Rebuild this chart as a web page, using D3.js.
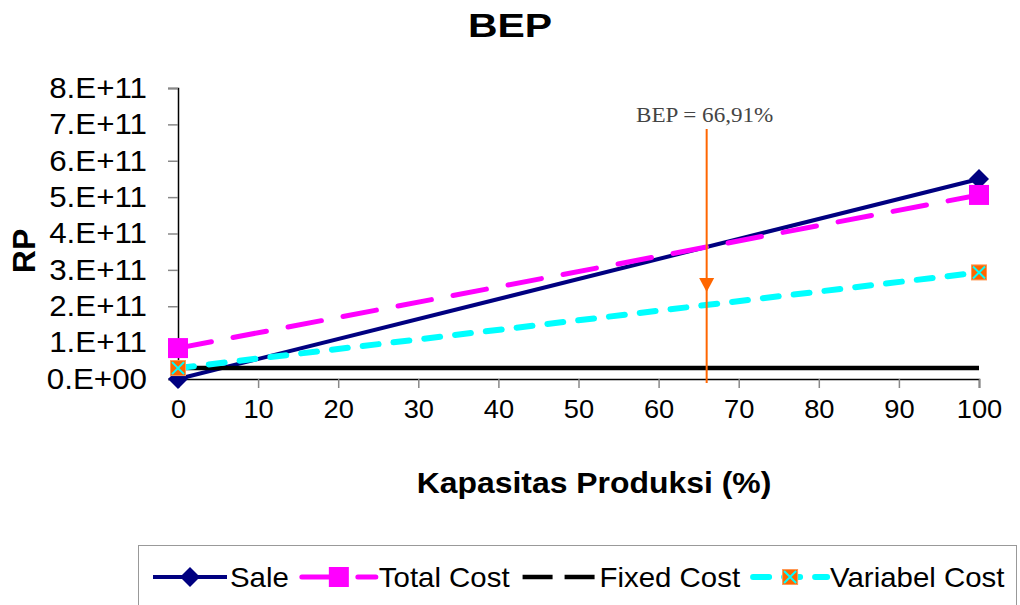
<!DOCTYPE html>
<html>
<head>
<meta charset="utf-8">
<script src="https://cdn.jsdelivr.net/npm/d3@7"></script>
<style>
  body { margin: 0; background: #fff; }
  text { font-family: Arial, "Liberation Sans", sans-serif; }
</style>
</head>
<body>
<div id="chart"></div>
<script>
// data
var capacity = [0, 100];
var sale = [0, 5.5e11];
var totalCost = [0.85e11, 5.06e11];
var fixedCost = [0.3e11, 0.3e11];
var variabelCost = [0.3e11, 2.93e11];
var yTicks = [0, 1e11, 2e11, 3e11, 4e11, 5e11, 6e11, 7e11, 8e11];
var xTicks = [0, 10, 20, 30, 40, 50, 60, 70, 80, 90, 100];
var bepPosition = 66;
var bepLabel = "BEP = 66,91%";

var width = 1020;
var height = 605;

var svg = d3.select("#chart").append("svg")
  .attr("width", width)
  .attr("height", height);

var x = d3.scaleLinear().domain([0, 100]).range([178, 979]);
var y = d3.scaleLinear().domain([0, 8e11]).range([379, 88]);

function fmt(d) {
  if (d === 0) return "0.E+00";
  return (d / 1e11) + ".E+11";
}

// the original picture is a bit wider than tall, so stretch text sideways
function stretch(sel, k) {
  sel.each(function() {
    var w = this.getComputedTextLength();
    d3.select(this).attr("textLength", w * k).attr("lengthAdjust", "spacingAndGlyphs");
  });
}

// title
svg.append("text")
  .attr("x", 510).attr("y", 37)
  .attr("text-anchor", "middle")
  .attr("font-size", "33px")
  .attr("font-weight", "bold")
  .text("BEP")
  .call(stretch, 1.24);

// y axis
var yAxis = svg.append("g")
  .attr("transform", "translate(" + x(0) + ",0)")
  .call(d3.axisLeft(y).tickValues(yTicks).tickFormat(fmt).tickSize(10).tickPadding(21));
yAxis.select(".domain").attr("stroke", "#000").attr("stroke-width", 1.5);
yAxis.selectAll(".tick line").attr("stroke", "#888").attr("stroke-width", 1.5);
yAxis.selectAll(".tick text")
  .attr("font-size", "29px")
  .attr("font-family", "Arial, 'Liberation Sans', sans-serif")
  .attr("fill", "#000")
  .call(stretch, 1.08);

// x axis
var xAxis = svg.append("g")
  .attr("transform", "translate(0," + y(0) + ")")
  .call(d3.axisBottom(x).tickValues(xTicks).tickSize(9).tickPadding(12));
xAxis.select(".domain").attr("stroke", "#000").attr("stroke-width", 1.5);
xAxis.selectAll(".tick line").attr("stroke", "#888").attr("stroke-width", 1.5);
xAxis.selectAll(".tick text")
  .attr("font-size", "26px")
  .attr("font-family", "Arial, 'Liberation Sans', sans-serif")
  .attr("fill", "#000")
  .call(stretch, 1.05);

// axis titles
svg.append("text")
  .attr("x", 594).attr("y", 493)
  .attr("text-anchor", "middle")
  .attr("font-size", "29px")
  .attr("font-weight", "bold")
  .text("Kapasitas Produksi (%)")
  .call(stretch, 1.1);

svg.append("text")
  .attr("transform", "translate(35,251) rotate(-90)")
  .attr("text-anchor", "middle")
  .attr("font-size", "32px")
  .attr("font-weight", "bold")
  .text("RP");

var series = [
  {name: "Sale", values: sale, color: "#000080", width: 4, dash: null, cap: "butt", marker: "diamond", legendDash: null},
  {name: "Total Cost", values: totalCost, color: "#FF00FF", width: 5, dash: "34,22", cap: "round", marker: "square", legendDash: "34,22"},
  {name: "Fixed Cost", values: fixedCost, color: "#000000", width: 4.5, dash: null, cap: "butt", marker: null, legendDash: "30,12"},
  {name: "Variabel Cost", values: variabelCost, color: "#00FFFF", width: 6, dash: "16,15", cap: "round", marker: "xsquare", legendDash: "16,15"}
];

var line = d3.line()
  .x(function(d) { return x(d[0]); })
  .y(function(d) { return y(d[1]); });

function drawMarker(g, type, cx, cy) {
  if (type === "diamond") {
    g.append("path")
      .attr("d", "M" + cx + "," + (cy - 10) + "L" + (cx + 10) + "," + cy + "L" + cx + "," + (cy + 10) + "L" + (cx - 10) + "," + cy + "Z")
      .attr("fill", "#000080");
  } else if (type === "square") {
    g.append("rect")
      .attr("x", cx - 10).attr("y", cy - 10)
      .attr("width", 20).attr("height", 20)
      .attr("fill", "#FF00FF");
  } else if (type === "xsquare") {
    g.append("rect")
      .attr("x", cx - 7.5).attr("y", cy - 7.5)
      .attr("width", 15).attr("height", 15)
      .attr("fill", "#FF6600")
      .attr("stroke", "#FF9955").attr("stroke-width", 1);
    g.append("path")
      .attr("d", "M" + (cx - 6) + "," + (cy - 6) + "L" + (cx + 6) + "," + (cy + 6) + "M" + (cx + 6) + "," + (cy - 6) + "L" + (cx - 6) + "," + (cy + 6))
      .attr("stroke", "#00FFFF").attr("stroke-width", 2);
  }
}

series.forEach(function(s) {
  var pts = capacity.map(function(c, i) { return [c, s.values[i]]; });
  var g = svg.append("g");
  g.append("path")
    .attr("d", line(pts))
    .attr("fill", "none")
    .attr("stroke", s.color)
    .attr("stroke-width", s.width)
    .attr("stroke-linecap", s.cap)
    .attr("stroke-dasharray", s.dash);
  if (s.marker) {
    pts.forEach(function(p) { drawMarker(g, s.marker, x(p[0]), y(p[1])); });
  }
});

// BEP annotation
var bx = x(bepPosition);
svg.append("line")
  .attr("x1", bx).attr("x2", bx)
  .attr("y1", 129).attr("y2", 383)
  .attr("stroke", "#FF6600").attr("stroke-width", 2);
svg.append("path")
  .attr("d", "M" + (bx - 7.5) + ",278L" + (bx + 7.5) + ",278L" + bx + ",292Z")
  .attr("fill", "#FF6600");
svg.append("text")
  .attr("x", bx - 2).attr("y", 122)
  .attr("text-anchor", "middle")
  .style("font-family", "'Liberation Serif', 'Times New Roman', serif")
  .attr("font-size", "21px")
  .attr("fill", "#444")
  .text(bepLabel)
  .call(stretch, 1.1);

// legend
var legend = svg.append("g");
legend.append("rect")
  .attr("x", 138.5).attr("y", 545.5)
  .attr("width", 878).attr("height", 80)
  .attr("fill", "#fff")
  .attr("stroke", "#999").attr("stroke-width", 1);

var lx = 153;
var ly = 577;
series.forEach(function(s) {
  var item = legend.append("g");
  item.append("line")
    .attr("x1", lx).attr("x2", lx + 74)
    .attr("y1", ly).attr("y2", ly)
    .attr("stroke", s.color)
    .attr("stroke-width", s.width)
    .attr("stroke-linecap", s.legendDash ? s.cap : "butt")
    .attr("stroke-dasharray", s.legendDash);
  if (s.marker) drawMarker(item, s.marker, lx + 37, ly);
  var t = item.append("text")
    .attr("x", lx + 77).attr("y", ly + 10)
    .attr("font-size", "28px")
    .text(s.name);
  var w = t.node().getComputedTextLength() * 1.05;
  t.attr("textLength", w).attr("lengthAdjust", "spacingAndGlyphs");
  lx += 77 + w + 13;
});
</script>
</body>
</html>
